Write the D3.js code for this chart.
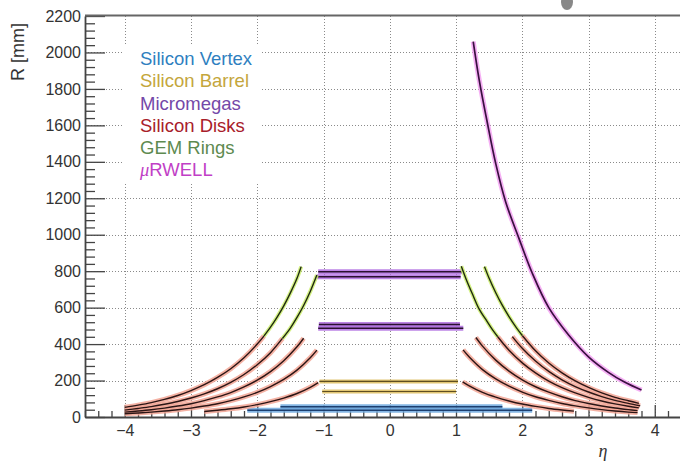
<!DOCTYPE html>
<html>
<head>
<meta charset="utf-8">
<script src="https://cdn.jsdelivr.net/npm/d3@7"></script>
<style>
  html, body { margin: 0; padding: 0; background: #fff; }
  svg { display: block; font-family: "Liberation Sans", Arial, sans-serif; }
</style>
</head>
<body>
<svg id="chart" width="680" height="461"></svg>
<script>
// axis ticks
const xTicks = [-4, -3, -2, -1, 0, 1, 2, 3, 4];
const yTicks = [0, 200, 400, 600, 800, 1000, 1200, 1400, 1600, 1800, 2000, 2200];

// legend
const legendLabels = ["Silicon Vertex", "Silicon Barrel", "Micromegas", "Silicon Disks", "GEM Rings", "RWELL"];
const legendColors = ["#2f7fbf", "#c4a63c", "#7448a8", "#a8202a", "#5e8a50", "#c13fc6"];

// barrel layers: radius (mm) and eta range
const vertexR = [56, 37];
const vertexEta = [[-1.65, 1.70], [-2.15, 2.15]];
const barrelR = [195, 140];
const barrelEta = [[-1.06, 1.03], [-1.02, 1.00]];
const mmR = [797, 770, 508, 487];
const mmEta = [[-1.08, 1.09], [-1.10, 1.07], [-1.07, 1.06], [-1.08, 1.11]];

// silicon disks, [eta, R]
const diskCurves = [
  // electron side
  [[-1.08,189],[-1.2,163],[-1.4,129],[-1.6,104],[-1.8,84],[-2.0,68],[-2.2,55],[-2.4,45],[-2.6,37],[-2.8,30]],
  [[-1.1,367],[-1.2,325],[-1.4,257],[-1.6,206],[-1.8,167],[-2.0,135],[-2.2,110],[-2.4,90],[-2.6,73],[-2.8,60],[-3.0,49],[-3.2,40],[-3.4,33],[-3.6,27],[-3.8,22],[-4.0,18]],
  [[-1.3,432],[-1.4,385],[-1.6,309],[-1.8,249],[-2.0,202],[-2.2,165],[-2.4,134],[-2.6,110],[-2.8,90],[-3.0,73],[-3.2,60],[-3.4,49],[-3.6,40],[-3.8,33],[-4.0,27]],
  [[-1.62,431],[-1.8,353],[-2.0,287],[-2.2,233],[-2.4,190],[-2.6,155],[-2.8,127],[-3.0,104],[-3.2,85],[-3.4,70],[-3.6,57],[-3.8,47],[-4.0,38]],
  [[-1.9,444],[-2.0,400],[-2.2,325],[-2.4,265],[-2.6,217],[-2.8,177],[-3.0,145],[-3.2,118],[-3.4,97],[-3.6,79],[-3.8,65],[-4.0,53]],
  // hadron side
  [[1.1,193],[1.2,171],[1.4,135],[1.6,109],[1.8,88],[2.0,71],[2.2,58],[2.4,47],[2.6,38.5],[2.78,32]],
  [[1.107,368],[1.2,329],[1.4,260],[1.6,209],[1.8,169],[2.0,137],[2.2,111],[2.4,91],[2.6,74],[2.8,61],[3.0,50],[3.2,40.5],[3.4,33],[3.6,27],[3.74,24]],
  [[1.3,436],[1.4,389],[1.6,312],[1.8,252],[2.0,204],[2.2,166],[2.4,136],[2.6,111],[2.8,90],[3.0,74],[3.2,60.5],[3.4,49.5],[3.6,40.5],[3.74,35]],
  [[1.63,440],[1.8,366],[2.0,297],[2.2,242],[2.4,197],[2.6,161],[2.8,132],[3.0,108],[3.2,88],[3.4,72],[3.6,59],[3.76,50]],
  [[1.85,441],[2.0,377],[2.2,307],[2.4,250],[2.6,204],[2.8,167],[3.0,137],[3.2,112],[3.4,91],[3.6,75],[3.78,62]],
  [[2.0,447],[2.2,363],[2.4,296],[2.6,242],[2.8,198],[3.0,162],[3.2,132],[3.4,108],[3.6,89],[3.76,75]]
];

// GEM rings, [eta, R]
const gemCurves = [
  [[-1.337,825],[-1.4,761],[-1.5,681],[-1.6,610],[-1.7,548],[-1.8,493],[-1.9,444]],
  [[-1.1,779],[-1.2,689],[-1.3,612],[-1.4,546],[-1.5,488],[-1.62,431]],
  [[1.08,827],[1.15,759],[1.25,673],[1.35,592],[1.45,535],[1.55,479],[1.63,440]],
  [[1.43,825],[1.5,761],[1.6,682],[1.7,612],[1.8,551],[1.9,496],[2.0,447]]
];

// uRWELL, [eta, R]
const urwellCurve = [[1.26,2060],[1.35,1850],[1.47,1620],[1.6,1390],[1.75,1180],[1.95,980],[2.15,790],[2.4,600],[2.7,450],[3.0,330],[3.3,245],[3.55,190],[3.8,148]];

const svg = d3.select("#chart");
const padLeft = 85, padTop = 16, padBottom = 417;

const x = d3.scaleLinear().domain([-4.6, 4.6]).range([padLeft, padLeft + 9.2 * 66.25]);
const y = d3.scaleLinear().domain([0, 2200]).range([padBottom, padTop]);

// grid
const grid = svg.append("g").attr("stroke", "#8a8a8a").attr("stroke-width", 1).attr("stroke-dasharray", "1,2");
grid.selectAll("line.gx").data(xTicks).enter().append("line")
  .attr("x1", d => Math.round(x(d)) + 0.5).attr("x2", d => Math.round(x(d)) + 0.5)
  .attr("y1", padTop).attr("y2", padBottom);
grid.selectAll("line.gy").data(yTicks.slice(1, -1)).enter().append("line")
  .attr("x1", padLeft).attr("x2", 680)
  .attr("y1", d => Math.round(y(d)) + 0.5).attr("y2", d => Math.round(y(d)) + 0.5);

// legend background
svg.append("rect").attr("x", 124).attr("y", 44).attr("width", 138).attr("height", 138).attr("fill", "#fff");

// axes
svg.append("g").attr("transform", `translate(0,${padBottom})`)
  .call(d3.axisBottom(x).tickValues(xTicks).tickSize(-12).tickSizeOuter(0).tickPadding(8));
svg.append("g").attr("transform", `translate(0,${padBottom})`)
  .call(d3.axisBottom(x).tickValues(d3.range(-46, 47, 2).map(d => d / 10).filter(d => !xTicks.includes(d)))
    .tickSize(-6).tickSizeOuter(0).tickFormat(""))
  .call(g => g.select(".domain").remove());
svg.append("g").attr("transform", `translate(${padLeft},0)`)
  .call(d3.axisLeft(y).tickValues(yTicks).tickFormat(d3.format("d")).tickSize(-20).tickSizeOuter(0).tickPadding(4));
svg.append("g").attr("transform", `translate(${padLeft},0)`)
  .call(d3.axisLeft(y).tickValues(d3.range(0, 2201, 40).filter(d => d % 200 !== 0)).tickSize(-10).tickSizeOuter(0).tickFormat(""))
  .call(g => g.select(".domain").remove());

svg.selectAll(".tick line").attr("stroke", "#444").attr("stroke-width", 1.3);
svg.selectAll(".domain").attr("stroke", "#444").attr("stroke-width", 1.8);
svg.selectAll(".tick text").attr("fill", "#333").attr("font-size", 16)
  .attr("font-family", "'Liberation Sans', Arial, sans-serif");

// top frame
svg.append("line").attr("x1", padLeft).attr("x2", 680).attr("y1", padTop - 0.5).attr("y2", padTop - 0.5)
  .attr("stroke", "#666").attr("stroke-width", 2);

// axis titles
svg.append("text").attr("transform", `translate(24,${padTop + 7}) rotate(-90)`)
  .attr("text-anchor", "end").attr("font-size", 18).attr("fill", "#333").text("R [mm]");
svg.append("text").attr("x", 603).attr("y", 457).attr("text-anchor", "middle")
  .attr("font-family", "'Liberation Serif', serif").attr("font-style", "italic")
  .attr("font-size", 18).attr("fill", "#333").text("η");

// smudge at the top edge
svg.append("ellipse").attr("cx", 567).attr("cy", 2).attr("rx", 6).attr("ry", 8).attr("fill", "#6a6a6a").attr("opacity", 0.8);

const line = d3.line().x(d => x(d[0])).y(d => y(d[1])).curve(d3.curveCatmullRom.alpha(0.5));

// draws a coloured band with a dark line over it
function drawSeries(data, glow, core, glowWidth, coreWidth) {
  const g = svg.append("g").attr("fill", "none").attr("stroke-linecap", "butt");
  g.selectAll("path.glow").data(data).enter().append("path")
    .attr("d", line).attr("stroke", glow).attr("stroke-width", glowWidth).attr("opacity", 0.85);
  g.selectAll("path.core").data(data).enter().append("path")
    .attr("d", line).attr("stroke", core).attr("stroke-width", coreWidth);
}

function flat(rs, etas) {
  return rs.map((r, i) => etas[i].map(e => [e, r]));
}

drawSeries(flat(vertexR, vertexEta), "#6ea8de", "#1c3f70", 5, 1.5);
drawSeries(flat(barrelR, barrelEta), "#dcbc5c", "#5e4e22", 4, 1.2);
drawSeries(flat(mmR, mmEta), "#b06ee0", "#2a1030", 5, 1.5);
drawSeries(diskCurves, "#f2a494", "#2b1515", 5, 1.4);
drawSeries(gemCurves, "#cdef70", "#1f2a10", 4, 1.4);
drawSeries([urwellCurve], "#f3a2f2", "#3a1040", 5, 1.7);

// legend
const legend = svg.append("g").attr("font-size", 18.5);
legendLabels.forEach((t, i) => {
  const txt = legend.append("text").attr("x", 140).attr("y", 65.3 + i * 22.1).attr("fill", legendColors[i]);
  if (i === 5) {
    txt.append("tspan").attr("font-family", "'Liberation Serif', serif").attr("font-style", "italic").text("μ");
  }
  txt.append("tspan").text(t);
});
</script>
</body>
</html>
